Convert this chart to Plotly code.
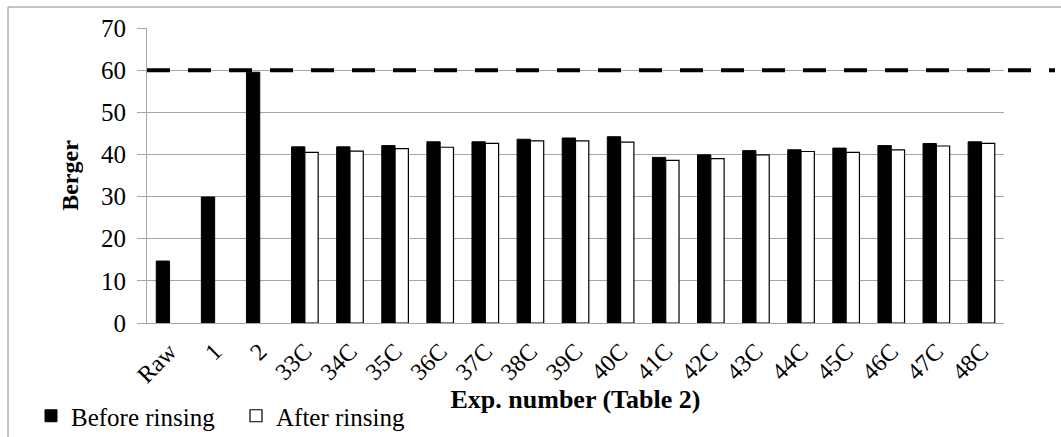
import plotly.graph_objects as go

categories = ["Raw", "1", "2", "33C", "34C", "35C", "36C", "37C", "38C", "39C", "40C",
              "41C", "42C", "43C", "44C", "45C", "46C", "47C", "48C"]
before_rinsing = [14.7, 29.9, 59.5, 41.8, 41.8, 42.1, 43.0, 43.0, 43.6, 43.9, 44.2,
                  39.3, 39.9, 40.9, 41.1, 41.5, 42.1, 42.6, 43.0]
after_rinsing = [None, None, None, 40.5, 40.8, 41.4, 41.7, 42.6, 43.2, 43.2, 42.9,
                 38.6, 39.0, 39.9, 40.7, 40.5, 41.1, 42.0, 42.6]
limit_value = 60
y_ticks = [0, 10, 20, 30, 40, 50, 60, 70]

FONT = "Liberation Serif"
GRID = "#a6a6a6"

fig = go.Figure()
fig.add_trace(go.Bar(x=categories, y=before_rinsing, name="Before rinsing",
                     marker=dict(color="black", line=dict(color="black", width=1))))
fig.add_trace(go.Bar(x=categories, y=after_rinsing, name="After rinsing",
                     marker=dict(color="white", line=dict(color="black", width=1.2))))

W, H = 1061, 437
L, R, T, B = 147, 57, 28, 114
pw, ph = W - L - R, H - T - B

def px_x(p):
    return (p - L) / pw

def px_y(p):
    return (H - B - p) / ph

fig.add_shape(type="line", xref="paper", yref="y", x0=0, x1=px_x(1055),
              y0=limit_value, y1=limit_value,
              line=dict(color="black", width=4, dash="23px,18px"))
fig.add_shape(type="rect", xref="paper", yref="paper",
              x0=px_x(8), x1=px_x(1070), y0=px_y(445), y1=px_y(7),
              line=dict(color="#888888", width=1), fillcolor="rgba(0,0,0,0)", layer="below")

fig.update_layout(
    width=W, height=H,
    margin=dict(l=L, r=R, t=T, b=B, autoexpand=False),
    paper_bgcolor="white", plot_bgcolor="white",
    font=dict(family=FONT, size=24, color="black"),
    barmode="group", bargap=0.41, bargroupgap=0,
    showlegend=True,
    legend=dict(orientation="h", x=px_x(31), xanchor="left", y=px_y(416), yanchor="middle",
                font=dict(family=FONT, size=25, color="black"),
                entrywidth=160, entrywidthmode="pixels",
                itemclick=False, tracegroupgap=0, bgcolor="rgba(0,0,0,0)"),
    xaxis=dict(tickangle=-45, showline=True, linecolor=GRID, linewidth=1,
               showgrid=False, ticks="", automargin=False, ticklabelstandoff=4,
               tickfont=dict(family=FONT, size=24),
               title=dict(text="<b>Exp. number (Table 2)</b>", standoff=0,
                          font=dict(family=FONT, size=26))),
    yaxis=dict(range=[0, 70], tickvals=y_ticks, showline=True, linecolor=GRID, linewidth=1,
               showgrid=True, gridcolor=GRID, gridwidth=1, zeroline=False,
               ticks="outside", ticklen=9, tickcolor=GRID, tickwidth=1,
               ticklabelstandoff=6, automargin=False,
               tickfont=dict(family=FONT, size=25),
               title=dict(text="<b>Berger</b>", standoff=15,
                          font=dict(family=FONT, size=24))),
)

fig.write_html("out.html", config={"displayModeBar": False},
               post_script="document.body.style.margin='0';document.body.style.overflow='hidden';")
